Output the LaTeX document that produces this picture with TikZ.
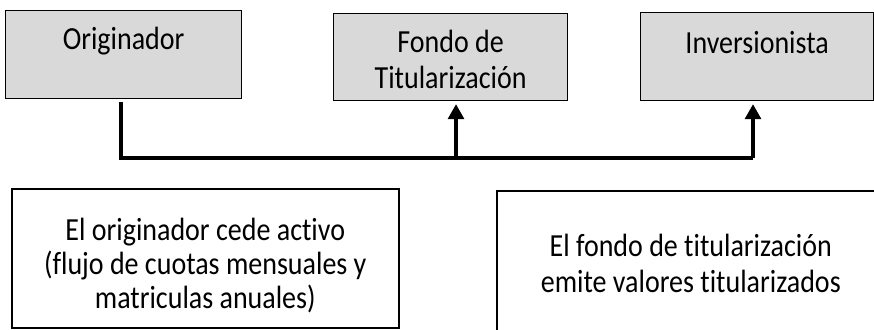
\documentclass[tikz,border=0pt]{standalone}
\usepackage{fontspec}
\setmainfont{Carlito}[Ligatures={NoCommon}]
\usetikzlibrary{arrows.meta,calc}
\definecolor{boxgray}{HTML}{D9D9D9}
% #1 width, #2 height, #3 first baseline below top, #4 line spacing, #5 text (all in output pt; text stretched vertically 1.15)
\newcommand{\boxtext}[5]{\scalebox{1}[1.15]{\parbox[c][\dimexpr #2pt*100/115\relax][t]{#1pt}{\centering\fontsize{28}{\dimexpr #4pt*100/115\relax}\selectfont\rule{0pt}{\dimexpr #3pt*100/115\relax}#5}}}
\tikzset{
  topbox/.style={draw=black, line width=1.2pt, fill=boxgray, inner sep=0pt, anchor=north west},
  botbox/.style={draw=black, line width=1.6pt, fill=white, inner sep=0pt, anchor=north west},
  conn/.style={line width=3.2pt, line join=miter},
  arr/.style={conn, -{Triangle[length=15pt,width=16pt]}, shorten >=3pt}
}
\begin{document}
\begin{tikzpicture}[x=1pt,y=1pt]
\useasboundingbox (0,0) rectangle (874,329);
\clip (0,0) rectangle (874,329);
% top boxes (y = 329 - image y)
\node[topbox] (orig) at (5,319) {\boxtext{236}{88}{39}{34}{Originador}};
\node[topbox] (fondo) at (333,316) {\boxtext{234}{87}{39}{36}{Fondo de\\Titularización}};
\node[topbox] (inv) at (640,317) {\boxtext{233}{88}{41}{34}{Inversionista}};
% bottom boxes
\node[botbox] (cede) at (11,141) {\boxtext{387}{139}{52}{34}{El originador cede activo\\(flujo de cuotas mensuales y\\matriculas anuales)}};
\node[botbox] (emite) at (496,139) {\boxtext{388}{160}{66}{36}{El fondo de titularización\\emite valores titularizados}};
% connectors
\coordinate (j1) at (121,171);
\coordinate (j2) at (456,171);
\coordinate (j3) at (753,171);
\draw[conn] ($(j1 |- orig.south)+(0,-3)$) -- (j1) -- (j3);
\draw[arr] (j2) -- (j2 |- fondo.south);
\draw[arr] (j3) -- (j3 |- inv.south);
\end{tikzpicture}
\end{document}
